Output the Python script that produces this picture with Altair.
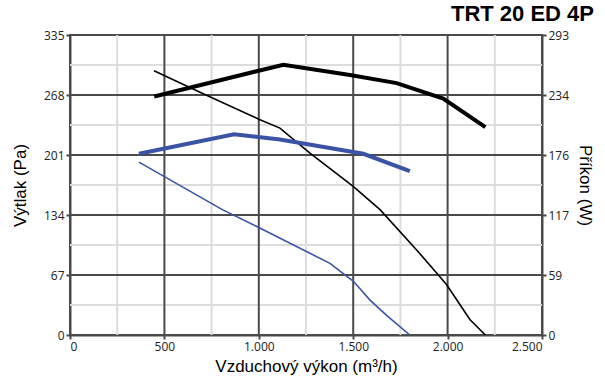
import altair as alt
import pandas as pd

# --- data ---
# pressure curves (Pa)
p_black_x = [445, 700, 1000, 1112, 1271, 1500, 1642, 1836, 1951, 1995, 2119, 2200]
p_black_y = [295, 270, 241, 231, 203, 166, 140, 95, 67, 56, 17, 0]
p_blue_x = [365, 807, 1000, 1377, 1501, 1589, 1677, 1800]
p_blue_y = [193, 140, 120, 80, 60, 39, 22, 0]
# power curves (W)
w_black_x = [446, 1130, 1483, 1730, 1977, 2200]
w_black_y = [233, 264, 254, 246, 231, 203]
w_blue_x = [365, 869, 1112, 1554, 1800]
w_blue_y = [177, 196, 191, 177, 160]

# axis ticks / grid
x_major = [500, 1000, 1500, 2000]
x_minor = [250, 750, 1250, 1750, 2250]
x_ticks = [0, 500, 1000, 1500, 2000, 2500]
y_ticks_pa = [0, 67, 134, 201, 268, 335]
y_major_pa = [67, 134, 201, 268]
y_minor_pa = [33.5, 100.5, 167.5, 234.5, 301.5]
y_ticks_w = [0, 58.6, 117.2, 175.8, 234.4, 293]

DARK = "#4a4a4a"
LIGHT = "#dcdcdc"
BLUE = "#3a53a4"
FONT = "Open Sans"
TFONT = "Liberation Sans"

press = pd.DataFrame(
    [{"flow": x, "val": y, "s": "black"} for x, y in zip(p_black_x, p_black_y)]
    + [{"flow": x, "val": y, "s": "blue"} for x, y in zip(p_blue_x, p_blue_y)]
)
power = pd.DataFrame(
    [{"flow": x, "val": y, "s": "black"} for x, y in zip(w_black_x, w_black_y)]
    + [{"flow": x, "val": y, "s": "blue"} for x, y in zip(w_blue_x, w_blue_y)]
)

xscale = alt.Scale(domain=[0, 2500], nice=False, zero=True)
pa_scale = alt.Scale(domain=[0, 335], nice=False)
w_scale = alt.Scale(domain=[0, 293], nice=False)
color_scale = alt.Scale(domain=["black", "blue"], range=["#000000", BLUE])

X_TITLE = "Vzduchový výkon (m³/h)"
Y_TITLE = "Výtlak (Pa)"
x_axis = alt.Axis(values=x_ticks, grid=False,
                  labelExpr="replace(format(datum.value, ','), ',', '.')")
y_axis = alt.Axis(values=y_ticks_pa, grid=False, orient="left")


def xenc(f):
    return alt.X(f, scale=xscale, title=X_TITLE, axis=x_axis)


def yenc(f):
    return alt.Y(f, scale=pa_scale, title=Y_TITLE, axis=y_axis)


vminor = alt.Chart(pd.DataFrame({"flow": x_minor})).mark_rule(color=LIGHT, strokeWidth=2).encode(
    x=xenc("flow:Q"))
hminor = alt.Chart(pd.DataFrame({"val": y_minor_pa})).mark_rule(color=LIGHT, strokeWidth=2).encode(
    y=yenc("val:Q"))
vmajor = alt.Chart(pd.DataFrame({"flow": x_major})).mark_rule(color=DARK, strokeWidth=2).encode(
    x=xenc("flow:Q"))
hmajor = alt.Chart(pd.DataFrame({"val": y_major_pa})).mark_rule(color=DARK, strokeWidth=2).encode(
    y=yenc("val:Q"))

press_lines = alt.Chart(press).mark_line(strokeWidth=1.6, clip=True).encode(
    x=xenc("flow:Q"),
    y=yenc("val:Q"),
    color=alt.Color("s:N", scale=color_scale, legend=None),
    detail="s:N",
)

power_lines = alt.Chart(power).mark_line(strokeWidth=4, clip=True).encode(
    x=xenc("flow:Q"),
    y=alt.Y("val:Q", scale=w_scale, title="Příkon (W)",
            axis=alt.Axis(values=y_ticks_w, grid=False, orient="right", format=".0f")),
    color=alt.Color("s:N", scale=color_scale, legend=None),
    detail="s:N",
)

left = alt.layer(vminor, hminor, vmajor, hmajor, press_lines)
chart = alt.layer(left, power_lines).resolve_scale(y="independent").properties(
    width=472, height=300,
    autosize=alt.AutoSizeParams(type="none"),
    padding={"left": 70, "top": 35, "right": 63, "bottom": 43},
    title=alt.Title("TRT 20 ED 4P", anchor="end", frame="group", dx=52, offset=3,
                    font=TFONT, fontSize=22, fontWeight="bold", color="#000"),
).configure_view(stroke=DARK, strokeWidth=2).configure_axis(
    domainColor=DARK, domainWidth=2, tickColor=DARK, tickWidth=2, tickSize=4,
    labelFont=FONT, labelFontSize=12, labelColor="#222", labelPadding=2,
    titleFont=TFONT, titleFontSize=17, titleFontWeight="normal", titleColor="#000",
).configure_axisX(titlePadding=6).configure_axisLeft(titlePadding=14).configure_axisRight(titlePadding=7)

chart.save("out.html", embed_options={"renderer": "svg", "actions": False})
